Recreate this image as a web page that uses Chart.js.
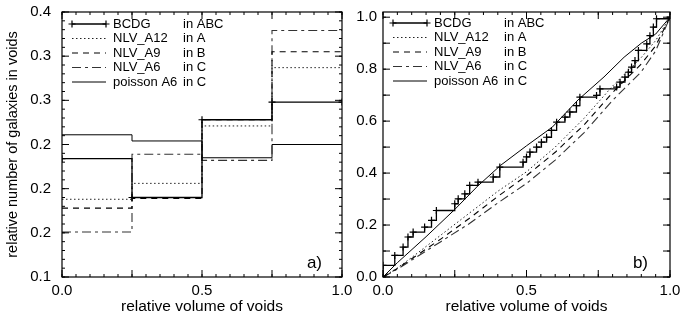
<!DOCTYPE html>
<html>
<head>
<meta charset="utf-8">
<script src="https://cdn.jsdelivr.net/npm/chart.js@4.4.1/dist/chart.umd.min.js"></script>
<style>
html, body { margin: 0; padding: 0; background: #fff; }
#wrap { position: relative; width: 680px; height: 320px; overflow: hidden; }
canvas { position: absolute; top: 0; }
#left { left: 0; }
#right { left: 345px; }
</style>
</head>
<body>
<div id="wrap">
<canvas id="left" width="356" height="320"></canvas>
<canvas id="right" width="335" height="320"></canvas>
</div>
<script>
// legend text
var seriesNames = ['BCDG', 'NLV_A12', 'NLV_A9', 'NLV_A6', 'poisson A6'];
var seriesSamples = ['in ABC', 'in A', 'in B', 'in C', 'in C'];

// panel a) : fraction of galaxies per volume quartile
var binEdges = [0, 0.25, 0.5, 0.75, 1.0];
var bcdgHist = [0.234, 0.190, 0.278, 0.298];
var a12Hist = [0.188, 0.206, 0.271, 0.337];
var a9Hist = [0.178, 0.189, 0.278, 0.355];
var a6Hist = [0.151, 0.239, 0.232, 0.379];
var poissonHist = [0.261, 0.254, 0.235, 0.250];

// panel b) : cumulative distributions
var bcdgX = [0, 0, 0.041, 0.07, 0.087, 0.105, 0.145, 0.169, 0.186, 0.25, 0.262, 0.285, 0.302, 0.331, 0.384, 0.407,
    0.488, 0.5, 0.512, 0.535, 0.552, 0.57, 0.587, 0.605, 0.634, 0.651, 0.674, 0.686, 0.744, 0.756, 0.814,
    0.826, 0.843, 0.855, 0.866, 0.878, 0.89, 0.919, 0.93, 0.942, 0.953, 1.0];
var bcdgY = [0, 0.045, 0.083, 0.115, 0.154, 0.173, 0.192, 0.218, 0.256, 0.282, 0.301, 0.32, 0.353, 0.365, 0.385, 0.423,
    0.442, 0.462, 0.481, 0.5, 0.519, 0.538, 0.564, 0.596, 0.615, 0.635, 0.66, 0.692, 0.699, 0.724, 0.731,
    0.75, 0.769, 0.788, 0.808, 0.833, 0.872, 0.897, 0.929, 0.962, 0.994, 1.0];
var nlvX = [0, 0.05, 0.1, 0.2, 0.3, 0.4, 0.5, 0.6, 0.7, 0.8, 0.9, 0.95, 1.0];
var a12Cdf = [0, 0.035, 0.075, 0.16, 0.245, 0.33, 0.405, 0.5, 0.61, 0.735, 0.845, 0.91, 1.0];
var a9Cdf = [0, 0.033, 0.07, 0.145, 0.225, 0.31, 0.39, 0.48, 0.585, 0.71, 0.82, 0.89, 1.0];
var a6Cdf = [0, 0.03, 0.065, 0.135, 0.205, 0.285, 0.36, 0.45, 0.555, 0.68, 0.79, 0.87, 1.0];
var poissonX = [0, 0.05, 0.15, 0.25, 0.33, 0.41, 0.5, 0.59, 0.68, 0.77, 0.84, 0.9, 0.95, 1.0];
var poissonY = [0, 0.055, 0.155, 0.26, 0.35, 0.43, 0.505, 0.577, 0.682, 0.77, 0.846, 0.9, 0.935, 1.0];

// tick labels
var xTickValues = [0, 0.25, 0.5, 0.75, 1.0];
var xTickLabels = ['0.0', '', '0.5', '', '1.0'];
var leftYTickValues = [0.1, 0.15, 0.2, 0.25, 0.3, 0.35, 0.4];
var leftYTickLabels = ['0.1', '0.2', '0.2', '0.2', '0.3', '0.3', '0.4'];
var rightYTickValues = [0, 0.2, 0.4, 0.6, 0.8, 1.0];
var rightYTickLabels = ['0.0', '0.2', '0.4', '0.6', '0.8', '1.0'];

Chart.defaults.font.family = '"Liberation Sans", Arial, sans-serif';
Chart.defaults.color = '#000';
Chart.defaults.animation = false;

function pts(xs, ys) {
    var out = [];
    for (let i = 0; i < xs.length; i++) out.push({ x: xs[i], y: ys[i] });
    return out;
}
// step histogram: repeat last bin value at right edge
function hist(vals) {
    return pts(binEdges, vals.concat([vals[vals.length - 1]]));
}

var styles = [
    { borderColor: '#000', borderWidth: 1.3, borderDash: [], cross: true },
    { borderColor: '#222', borderWidth: 1, borderDash: [1.5, 2.5] },
    { borderColor: '#000', borderWidth: 1.1, borderDash: [6, 5] },
    { borderColor: '#333', borderWidth: 1.1, borderDash: [9, 4, 3, 4] },
    { borderColor: '#000', borderWidth: 1, borderDash: [] }
];

function makeDataset(i, data, stepped) {
    var s = styles[i];
    return {
        label: seriesNames[i],
        data: data,
        stepped: stepped,
        borderColor: s.borderColor,
        borderWidth: s.borderWidth,
        borderDash: s.borderDash,
        pointStyle: 'cross',
        pointRadius: s.cross ? 3.5 : 0,
        pointBorderColor: '#000',
        pointBorderWidth: 1.2,
        fill: false,
        tension: 0
    };
}

// frame with inward ticks on all sides, panel tag, two-column legend
var frameTicks = {
    id: 'frameTicks',
    afterDraw(chart, args, o) {
        const { ctx, chartArea: a, scales } = chart;
        const x = scales.x, y = scales.y;
        ctx.save();
        ctx.strokeStyle = '#000';
        ctx.lineWidth = 1.2;
        ctx.setLineDash([]);
        ctx.strokeRect(a.left, a.top, a.right - a.left, a.bottom - a.top);
        ctx.lineWidth = 1;
        function xt(v, len) {
            const p = x.getPixelForValue(v);
            ctx.beginPath();
            ctx.moveTo(p, a.bottom); ctx.lineTo(p, a.bottom - len);
            ctx.moveTo(p, a.top); ctx.lineTo(p, a.top + len);
            ctx.stroke();
        }
        function yt(v, len) {
            const p = y.getPixelForValue(v);
            ctx.beginPath();
            ctx.moveTo(a.left, p); ctx.lineTo(a.left + len, p);
            ctx.moveTo(a.right, p); ctx.lineTo(a.right - len, p);
            ctx.stroke();
        }
        for (let v = x.min; v <= x.max + 1e-9; v += o.xMinor) xt(v, 3);
        for (let v = x.min; v <= x.max + 1e-9; v += o.xMajor) xt(v, 7);
        for (let v = y.min; v <= y.max + 1e-9; v += o.yMinor) yt(v, 3);
        for (let v = y.min; v <= y.max + 1e-9; v += o.yMajor) yt(v, 7);

        // panel tag
        ctx.fillStyle = '#000';
        ctx.font = '17px "Liberation Sans", Arial, sans-serif';
        ctx.textAlign = 'right';
        ctx.textBaseline = 'alphabetic';
        ctx.fillText(o.tag, a.right - o.tagDx, a.bottom - 9);

        // legend
        ctx.font = '13px "Liberation Sans", Arial, sans-serif';
        ctx.textAlign = 'left';
        ctx.textBaseline = 'middle';
        chart.data.datasets.forEach(function (ds, i) {
            const ly = a.top + o.legendTop + i * 14.5;
            const x0 = a.left + 10, x1 = a.left + 44;
            ctx.strokeStyle = ds.borderColor;
            ctx.lineWidth = ds.borderWidth;
            ctx.setLineDash(ds.borderDash);
            ctx.beginPath();
            ctx.moveTo(x0, ly); ctx.lineTo(x1, ly);
            ctx.stroke();
            ctx.setLineDash([]);
            if (ds.pointRadius > 0) {
                ctx.strokeStyle = '#000';
                ctx.lineWidth = 1.2;
                [x0, x1].forEach(function (px) {
                    ctx.beginPath();
                    ctx.moveTo(px - 3.5, ly); ctx.lineTo(px + 3.5, ly);
                    ctx.moveTo(px, ly - 3.5); ctx.lineTo(px, ly + 3.5);
                    ctx.stroke();
                });
            }
            ctx.fillText(seriesNames[i], a.left + 51, ly);
            ctx.fillText(seriesSamples[i], a.left + 121, ly);
        });
        ctx.restore();
    }
};

function xScale() {
    return {
        type: 'linear', min: 0, max: 1,
        grid: { display: false, drawTicks: false },
        border: { display: false },
        afterBuildTicks: function (s) { s.ticks = xTickValues.map(v => ({ value: v })); },
        afterFit: function (s) { s.height = 43; s.paddingLeft = 0; s.paddingRight = 0; },
        ticks: {
            autoSkip: false, maxRotation: 0, padding: 5,
            font: { size: 15 },
            callback: function (v, i) { return xTickLabels[i]; }
        },
        title: {
            display: true, text: 'relative volume of voids',
            font: { size: 15.5 }, padding: { top: 0, bottom: 4 }
        }
    };
}

function yScale(min, max, vals, labels, width, pad, title) {
    return {
        type: 'linear', min: min, max: max,
        grid: { display: false, drawTicks: false },
        border: { display: false },
        afterBuildTicks: function (s) { s.ticks = vals.map(v => ({ value: v })); },
        afterFit: function (s) { s.width = width; s.paddingTop = 0; s.paddingBottom = 0; },
        ticks: {
            autoSkip: false, padding: pad,
            font: { size: 15 },
            callback: function (v, i) { return labels[i]; }
        },
        title: {
            display: !!title, text: title || '',
            font: { size: 14.5 }, padding: { top: 4, bottom: 0 }
        }
    };
}

new Chart(document.getElementById('left'), {
    type: 'line',
    data: {
        datasets: [
            makeDataset(0, hist(bcdgHist), 'before'),
            makeDataset(1, hist(a12Hist), 'before'),
            makeDataset(2, hist(a9Hist), 'before'),
            makeDataset(3, hist(a6Hist), 'before'),
            makeDataset(4, hist(poissonHist), 'before')
        ]
    },
    options: {
        responsive: false,
        layout: { padding: { top: 12, right: 14, bottom: 0, left: 0 } },
        scales: {
            x: xScale(),
            y: yScale(0.1, 0.4, leftYTickValues, leftYTickLabels, 62, 11, 'relative number of galaxies in voids')
        },
        plugins: {
            legend: { display: false },
            tooltip: { enabled: false },
            frameTicks: { xMajor: 0.25, xMinor: 0.05, yMajor: 0.05, yMinor: 0.01, tag: 'a)', tagDx: 20, legendTop: 12 }
        }
    },
    plugins: [frameTicks]
});

new Chart(document.getElementById('right'), {
    type: 'line',
    data: {
        datasets: [
            makeDataset(0, pts(bcdgX, bcdgY), 'before'),
            makeDataset(1, pts(nlvX, a12Cdf), false),
            makeDataset(2, pts(nlvX, a9Cdf), false),
            makeDataset(3, pts(nlvX, a6Cdf), false),
            makeDataset(4, pts(poissonX, poissonY), false)
        ]
    },
    options: {
        responsive: false,
        layout: { padding: { top: 12, right: 10, bottom: 0, left: 0 } },
        scales: {
            x: xScale(),
            y: yScale(0, 1.02, rightYTickValues, rightYTickLabels, 38, 6, null)
        },
        plugins: {
            legend: { display: false },
            tooltip: { enabled: false },
            frameTicks: { xMajor: 0.25, xMinor: 0.05, yMajor: 0.1, yMinor: 0.1, tag: 'b)', tagDx: 22, legendTop: 11 }
        }
    },
    plugins: [frameTicks]
});
</script>
</body>
</html>
